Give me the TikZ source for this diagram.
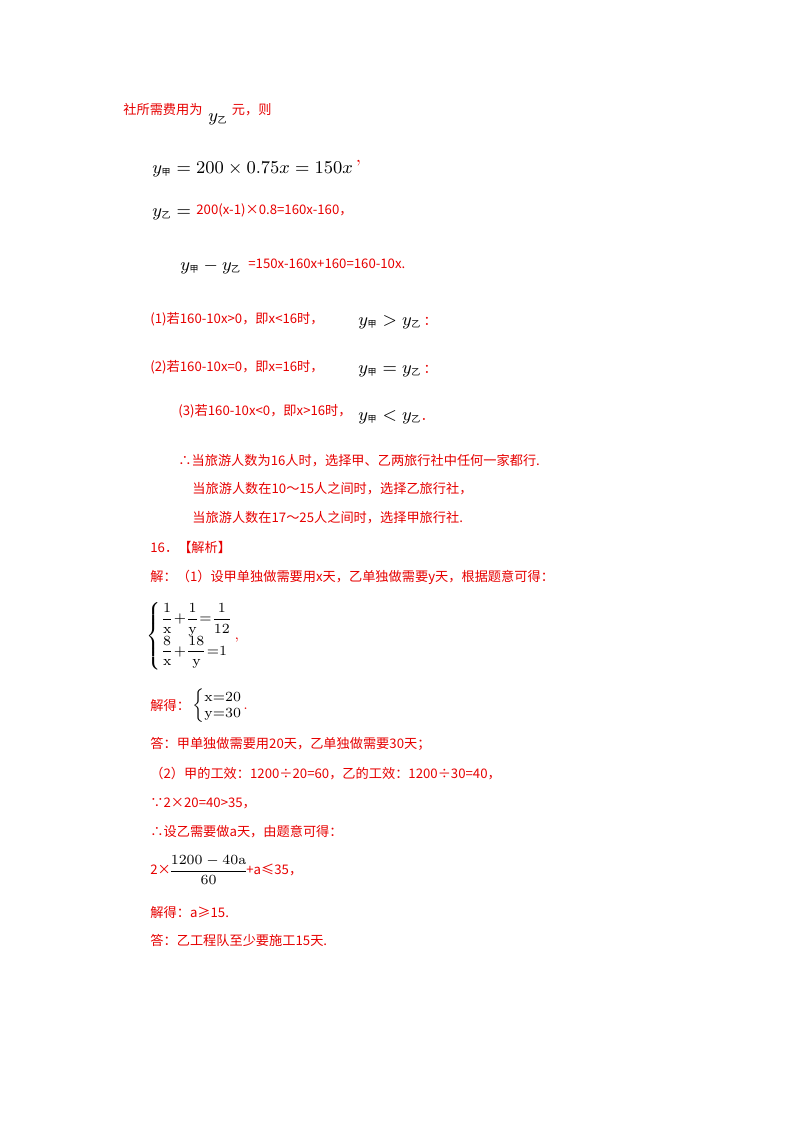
\documentclass[tikz,border=0pt]{standalone}
\usepackage{amsmath}
\usepackage{fontspec}
\newfontfamily\cjk{Noto Sans CJK SC}
\definecolor{rd}{RGB}{230,0,0}
\newcommand{\sj}{\hbox{\cjk\fontsize{4.5}{4.5}\selectfont 甲}}
\newcommand{\sy}{\hbox{\cjk\fontsize{4.5}{4.5}\selectfont 乙}}
\begin{document}
\begin{tikzpicture}[x=0.5pt,y=-0.5pt,
  t/.style={anchor=base west,inner sep=0,text=rd,font=\cjk\fontsize{6.6}{8}\selectfont},
  m/.style={anchor=base west,inner sep=0,text=black,font=\fontsize{9.5}{11}\selectfont},
  s/.style={anchor=west,inner sep=0,text=black,font=\fontsize{7}{8}\selectfont}]
\useasboundingbox (0,0) rectangle (800,1132);
\node[t] (l1) at (123,114) {社所需费用为\,\,\,\,\,\,\,\,\,\,\,\, 元，则};
\node[m] (l1m) at (208,121) {$y_{\sy}$};
\node[m] (l2) at (152,173) {$y_{\sj}=200\times0.75x=150x$\textcolor{rd}{\,'}};
\node[m] (l3) at (152,216) {$y_{\sy}=$};
\node[t] (l3t) at (196,214) {200(x-1)×0.8=160x-160，};
\node[m] (l4) at (180,270) {$y_{\sj}-y_{\sy}$};
\node[t] (l4t) at (248,268) {=150x-160x+160=160-10x.};
\node[t] (l5) at (150,323) {(1)若160-10x>0，即x<16时，};
\node[m] (l5m) at (358,325) {$y_{\sj}>y_{\sy}$\textcolor{rd}{\,:}};
\node[t] (l6) at (150,371) {(2)若160-10x=0，即x=16时，};
\node[m] (l6m) at (358,373) {$y_{\sj}=y_{\sy}$\textcolor{rd}{\,:}};
\node[t] (l7) at (178,415) {(3)若160-10x<0，即x>16时，};
\node[m] (l7m) at (358,420) {$y_{\sj}<y_{\sy}$\textcolor{rd}{.}};
\node[t] (l8) at (178,465) {∴当旅游人数为16人时，选择甲、乙两旅行社中任何一家都行.};
\node[t] (l9) at (192,493) {当旅游人数在10～15人之间时，选择乙旅行社，};
\node[t] (l10) at (192,522) {当旅游人数在17～25人之间时，选择甲旅行社.};
\node[t] (l11) at (150,552) {16．【解析】};
\node[t] (l12) at (150,581) {解：（1）设甲单独做需要用x天，乙单独做需要y天，根据题意可得：};
\node[s] (sys) at (146,636) {$\left\{\begin{array}{@{}l@{}}\dfrac{1}{\mathrm{x}}{+}\dfrac{1}{\mathrm{y}}{=}\dfrac{1}{12}\\[3pt]\dfrac{8}{\mathrm{x}}{+}\dfrac{18}{\mathrm{y}}{=}1\end{array}\right.$\textcolor{rd}{,}};
\node[t] (l13) at (150,710) {解得：};
\node[s] (sol) at (192,706) {$\left\{\begin{array}{@{}l@{}}\mathrm{x{=}20}\\ \mathrm{y{=}30}\end{array}\right.$\textcolor{rd}{.}};
\node[t] (l14) at (150,748) {答：甲单独做需要用20天，乙单独做需要30天；};
\node[t] (l15) at (150,778) {（2）甲的工效：1200÷20=60，乙的工效：1200÷30=40，};
\node[t] (l16) at (150,807) {∵2×20=40>35，};
\node[t] (l17) at (150,836) {∴设乙需要做a天，由题意可得：};
\node[t] (l18) at (150,874) {2×};
\node[s] (fr) at (168,870) {$\dfrac{\mathrm{1200-40a}}{\mathrm{60}}$};
\node[t] (l18b) at (246,874) {+a≤35，};
\node[t] (l19) at (150,917) {解得：a≥15.};
\node[t] (l20) at (150,945) {答：乙工程队至少要施工15天.};
\end{tikzpicture}
\end{document}
